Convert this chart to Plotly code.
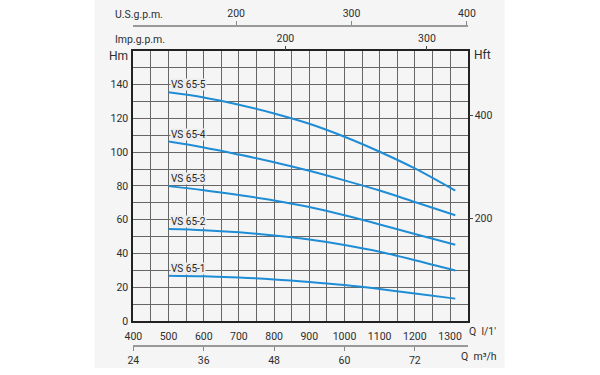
import plotly.graph_objects as go

flow = [500, 600, 700, 800, 900, 1000, 1100, 1200, 1315]
series_names = ["VS 65-5", "VS 65-4", "VS 65-3", "VS 65-2", "VS 65-1"]
head_65_5 = [135.5, 132.5, 128.2, 123.0, 116.9, 109.2, 100.3, 90.4, 77.2]
head_65_4 = [106.3, 102.8, 98.6, 94.1, 89.0, 83.3, 77.3, 70.5, 62.6]
head_65_3 = [79.9, 77.5, 74.6, 71.4, 67.5, 62.6, 57.2, 51.5, 45.2]
head_65_2 = [54.5, 53.8, 52.5, 50.6, 48.2, 45.0, 41.0, 36.0, 29.9]
head_65_1 = [26.8, 26.4, 25.7, 24.6, 23.1, 21.3, 18.9, 16.2, 13.2]
heads = [head_65_5, head_65_4, head_65_3, head_65_2, head_65_1]

x_ticks_lmin = [400, 500, 600, 700, 800, 900, 1000, 1100, 1200, 1300]
y_ticks_m = [0, 20, 40, 60, 80, 100, 120, 140]
y_ticks_ft = [200, 400]
imp_ticks = [200, 300]
us_ticks = [200, 300, 400]
m3h_ticks = [24, 36, 48, 60, 72]

W, H = 600, 375
L, R, T, B = 128, 472, 52, 327
FONT = "Roboto, DejaVu Sans, sans-serif"
TXT = "#2e2e2e"
GRID = "#666666"
BLUE = "#1f8dd6"
FS = 10.5

def px(x):
    return x / W

def py(y):
    return 1 - y / H

fig = go.Figure()
for name, h in zip(series_names, heads):
    fig.add_trace(go.Scatter(x=flow, y=h, mode="lines", name=name,
                             line=dict(color=BLUE, width=2, shape="spline", smoothing=1.0),
                             showlegend=False, hoverinfo="skip"))
    fig.add_annotation(x=flow[0], y=h[0] + 4.4, xref="x", yref="y", text=name,
                       showarrow=False, xanchor="left", yanchor="middle", xshift=1,
                       font=dict(size=10, color="#262626", family=FONT),
                       bgcolor="#eeeeee", borderpad=0)

# dummy traces so overlay axes are drawn
fig.add_trace(go.Scatter(x=[None], y=[None], xaxis="x2", yaxis="y", showlegend=False))
fig.add_trace(go.Scatter(x=[None], y=[None], xaxis="x3", yaxis="y", showlegend=False))
fig.add_trace(go.Scatter(x=[None], y=[None], xaxis="x4", yaxis="y", showlegend=False))
fig.add_trace(go.Scatter(x=[None], y=[None], xaxis="x", yaxis="y2", showlegend=False))

xdom = [px(L), px(R)]
ydom = [py(B), py(T)]
tickfont = dict(size=FS, color=TXT, family=FONT)

fig.update_layout(
    width=W, height=H,
    margin=dict(l=0, r=0, t=0, b=0),
    paper_bgcolor="white",
    plot_bgcolor="#eeeeee",
    font=dict(family=FONT, color=TXT),
    xaxis=dict(domain=xdom, anchor="y", range=[400, 1350], tickvals=x_ticks_lmin,
               ticks="", ticklabelstandoff=5, showgrid=True, gridcolor=GRID, gridwidth=1.2,
               minor=dict(tick0=400, dtick=50, showgrid=True, gridcolor=GRID, gridwidth=1.2),
               showline=True, linecolor="#222222", linewidth=2, mirror=True,
               tickfont=tickfont, zeroline=False, fixedrange=True),
    yaxis=dict(domain=ydom, anchor="x", range=[0, 160], tickvals=y_ticks_m,
               ticks="", ticklabelstandoff=1, showgrid=True, gridcolor=GRID, gridwidth=1.2,
               minor=dict(tick0=0, dtick=10, showgrid=True, gridcolor=GRID, gridwidth=1.2),
               showline=True, linecolor="#222222", linewidth=2, mirror=True,
               tickfont=tickfont, zeroline=False, fixedrange=True),
    yaxis2=dict(overlaying="y", side="right", anchor="x", range=[0, 160 / 0.3048],
                tickvals=y_ticks_ft, ticks="outside", ticklen=4, tickcolor="#444444",
                showgrid=False, zeroline=False, tickfont=tickfont, fixedrange=True),
    xaxis2=dict(overlaying="x", side="top", anchor="y", range=[92.7, 328.7],
                tickvals=imp_ticks, ticks="outside", ticklen=4, tickcolor="#444444",
                showgrid=False, zeroline=False, tickfont=tickfont, fixedrange=True),
    xaxis3=dict(overlaying="x", side="top", anchor="free", position=py(26),
                range=[111, 400.6], tickvals=us_ticks, ticks="outside", ticklen=4,
                tickcolor="#888888", showline=True, linecolor="#999999", linewidth=1.5,
                showgrid=False, zeroline=False, tickfont=tickfont, fixedrange=True),
    xaxis4=dict(overlaying="x", side="bottom", anchor="free", position=py(353),
                range=[24, 81], tickvals=m3h_ticks, ticks="outside", ticklen=4,
                tickcolor="#888888", showline=True, linecolor="#999999", linewidth=1.5,
                showgrid=False, zeroline=False, tickfont=tickfont, fixedrange=True),
    shapes=[dict(type="rect", xref="paper", yref="paper", x0=px(88), x1=px(510),
                 y0=0, y1=1, fillcolor="#f5f5f5", line=dict(width=0), layer="below")],
)

def lab(text, x, y, size=FS, anchor="left"):
    fig.add_annotation(x=px(x), y=py(y), xref="paper", yref="paper", text=text,
                       showarrow=False, xanchor=anchor, yanchor="middle",
                       font=dict(size=size, color=TXT, family=FONT))

lab("U.S.g.p.m.", 107, 15)
lab("Imp.g.p.m.", 107, 40)
lab("Hm", 125, 57, size=12, anchor="right")
lab("Hft", 477, 56, size=12)
lab("Q  l/1'", 471, 338)
lab("Q  m³/h", 463, 363)

fig.write_html("out.html", config={"displayModeBar": False},
               post_script="document.body.style.margin='0';document.body.style.overflow='hidden';")
